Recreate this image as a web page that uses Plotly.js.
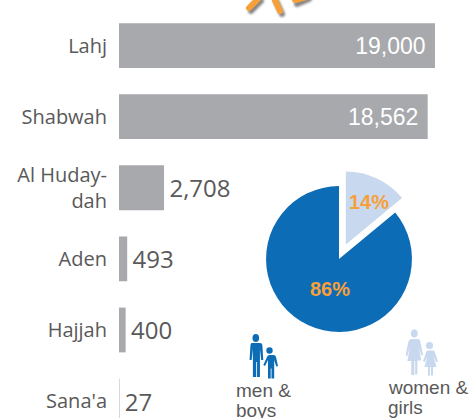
<!DOCTYPE html>
<html><head><meta charset="utf-8">
<script src="https://cdn.plot.ly/plotly-3.0.1.min.js"></script>
<style>html,body{margin:0;padding:0;background:#fff;overflow:hidden}</style>
</head><body><div id="chart" style="width:470px;height:418px"></div>
<script>
const governorates = ["Lahj","Shabwah","Al Huday-<br>dah","Aden","Hajjah","Sana'a"];
const displaced = [19000,18562,2708,493,400,27];
const genderLabels = ["women & girls","men & boys"];
const genderShares = [14,86];
const BAR='#A7A9AC', BLUE='#0D6CB6', PALE='#C8D8EE', ORANGE='#F7A03A', TXT='#595959';
const M={l:119,t:10,w:351,h:408};
const px=x=>(x-M.l)/M.w, py=y=>1-(y-M.t)/M.h;
function svgUri(s){return 'data:image/svg+xml;utf8,'+encodeURIComponent(s);}
function people(adult,child,c){
 return svgUri(`<svg xmlns="http://www.w3.org/2000/svg" width="50" height="50" viewBox="0 0 50 50"><g fill="${c}">${adult}${child}</g></svg>`);
}
const man='<g transform="translate(0,3) scale(.83,1)"><circle cx="13" cy="5" r="4"/><path d="M8 10h10q3 0 3 3l1 14h-2.500l-1.500-11v28h-3.500V29h-1v15H9.500V16L8 27H5.500l1-14q0-3 1.500-3z"/></g>';
const boy='<g transform="translate(-3.5,4.5)"><circle cx="28" cy="16" r="3.2"/><path d="M24 20.500h8q2 0 2.500 2l2 9-1.800.5-2-6.500V44h-2.700V34h-.8v10h-2.700V25.500l-3 6-1.700-1 3.700-8q.6-2 2.500-2z"/></g>';
const woman='<g transform="translate(0,2.5) scale(.87,1)"><circle cx="13" cy="4" r="3.900"/><path d="M9 9.500h8q2.500 0 3 3l3 13-2 .5-3-9 3 14h-4.500v14h-2.500V31.500h-1V45.500H9.500V31.500H5l3-14-3 9-2-.5 3-13q.5-3 3-3z"/></g>';
const girl='<g transform="translate(-4.5,3.5)"><circle cx="31" cy="15" r="3.600"/><path d="M27.500 20h7q1.500 0 2 2l3 9-1.800.5-2.700-6 3 11h-3.500v8.500h-2V36.500h-1v8.500h-2V36.500H26l3-11-2.700 6-1.800-.5 3-9q.5-2 2-2z"/></g>';
const star=svgUri(`<svg xmlns="http://www.w3.org/2000/svg" width="80" height="24" viewBox="0 0 80 24"><defs><filter id="b" x="-30%" y="-30%" width="160%" height="160%"><feGaussianBlur stdDeviation="1.2"/></filter></defs><g stroke-linecap="round" fill="none" stroke-width="6"><g stroke="#555" stroke-opacity=".7" filter="url(#b)"><path d="M16 11 L26 1M41 1 L47 14M62 4 L74 -1"/></g><g stroke="${ORANGE}"><path d="M14 8 L24 -2M39 -2 L45 11M60 0 L72 -3"/></g></g></svg>`);
const fits=displaced.map(v=>v>5000);
const trace1={type:'bar',orientation:'h',y:governorates,x:displaced,
 marker:{color:BAR},width:0.63,cliponaxis:true,
 texttemplate:'\u200a%{x:,}\u00a0',textposition:fits.map(f=>f?'inside':'outside'),constraintext:'none',
 insidetextanchor:'end',
 insidetextfont:{family:fits.map(()=>'Liberation Sans'),size:fits.map(()=>23),color:fits.map(()=>'#fff')},
 outsidetextfont:{family:'Open Sans',size:24,color:TXT},hoverinfo:'skip'};
const trace2={type:'pie',labels:genderLabels,values:genderShares,sort:false,direction:'clockwise',rotation:0,
 pull:[0.22,0],marker:{colors:[PALE,BLUE]},textinfo:'none',
 domain:{x:[px(250),px(428)],y:[py(348),py(170)]},hoverinfo:'skip',showlegend:false};
const noteFont={family:'Liberation Sans',size:19,color:TXT};
const pctFont={family:'Liberation Sans',size:20,color:ORANGE,weight:'bold'};
const note=(text,x,y)=>({text,xref:'paper',yref:'paper',x:px(x),y:py(y),xanchor:'left',yanchor:'middle',align:'left',showarrow:false,borderpad:0,font:noteFont});
const pct=(v,x,y)=>({text:v+'%',xref:'paper',yref:'paper',x:px(x),y:py(y),xanchor:'center',yanchor:'middle',showarrow:false,borderpad:0,font:pctFont});
const layout={width:470,height:418,paper_bgcolor:'#fff',plot_bgcolor:'#fff',showlegend:false,
 margin:{l:M.l,r:0,t:M.t,b:0},
 xaxis:{range:[0,21106],visible:false,fixedrange:true},
 yaxis:{type:'category',categoryorder:'array',categoryarray:governorates,range:[5.238,-0.5],
  showgrid:false,zeroline:false,showline:false,ticks:'',ticklabelstandoff:11,
  tickfont:{family:'Open Sans',size:20,color:TXT},automargin:false,fixedrange:true},
 images:[
  {source:people(man,boy,BLUE),xref:'paper',yref:'paper',x:px(245),y:py(330),sizex:50/M.w,sizey:50/M.h,sizing:'stretch',xanchor:'left',yanchor:'top',layer:'above'},
  {source:people(woman,girl,PALE),xref:'paper',yref:'paper',x:px(403),y:py(327),sizex:50/M.w,sizey:50/M.h,sizing:'stretch',xanchor:'left',yanchor:'top',layer:'above'},
  {source:star,xref:'paper',yref:'paper',x:px(235),y:py(0),sizex:80/M.w,sizey:24/M.h,sizing:'stretch',xanchor:'left',yanchor:'top',layer:'above'}
 ],
 annotations:[
  pct(genderShares[0],369,202),pct(genderShares[1],330,289),
  note('men &',235,390),note('boys',235,410),
  note('women &',387,387),note('girls',387,407)
 ]};
Plotly.newPlot('chart',[trace1,trace2],layout,{displayModeBar:false,staticPlot:true});
</script></body></html>
